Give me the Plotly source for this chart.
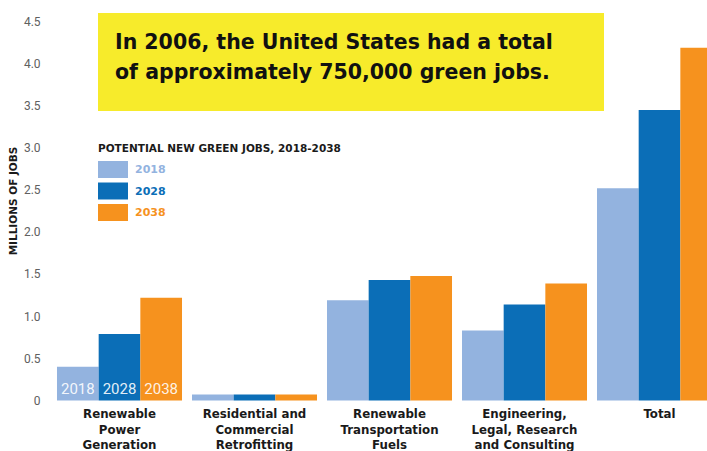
import plotly.graph_objects as go

# ---- data ----
categories = [
    "Renewable<br>Power<br>Generation",
    "Residential and<br>Commercial<br>Retrofitting",
    "Renewable<br>Transportation<br>Fuels",
    "Engineering,<br>Legal, Research<br>and Consulting",
    "Total",
]
years = ["2018", "2028", "2038"]
jobs_2018 = [0.40, 0.07, 1.19, 0.83, 2.52]
jobs_2028 = [0.79, 0.07, 1.43, 1.14, 3.45]
jobs_2038 = [1.22, 0.07, 1.48, 1.39, 4.19]
y_tickvals = [0, 0.5, 1.0, 1.5, 2.0, 2.5, 3.0, 3.5, 4.0, 4.5]
y_ticktext = ["0", "0.5", "1.0", "1.5", "2.0", "2.5", "3.0", "3.5", "4.0", "4.5"]
headline = ["In 2006, the United States had a total", "of approximately 750,000 green jobs."]
legend_title = "POTENTIAL NEW GREEN JOBS, 2018-2038"
y_title = "MILLIONS OF JOBS"

colors = ["#93B3DF", "#0B6EB7", "#F6921E"]
series = [jobs_2018, jobs_2028, jobs_2038]

W, H = 707, 451
ML, MR, MT, MB = 50, 0, 0, 49
PW, PH = W - ML - MR, H - MT - MB


def px(xp):
    return (xp - ML) / PW


def py(yp):
    return (H - MB - yp) / PH


xpos = list(range(len(categories)))

fig = go.Figure()
for i, (yr, vals) in enumerate(zip(years, series)):
    txt = [yr] + [""] * (len(vals) - 1)
    fig.add_trace(go.Bar(
        x=xpos, y=vals, name=yr, marker=dict(color=colors[i], line=dict(width=0)),
        text=txt, textposition="inside", insidetextanchor="start", textangle=0,
        textfont=dict(family="Roboto", size=15, color="rgba(255,255,255,0.9)"),
        showlegend=False,
    ))

shapes = []
annotations = []

# headline box
shapes.append(dict(type="rect", xref="paper", yref="paper",
                   x0=px(98), x1=px(604), y0=py(111), y1=py(13),
                   fillcolor="#F7EB2B", line=dict(width=0), layer="above"))
for j, (line, yc) in enumerate(zip(headline, [42, 72])):
    annotations.append(dict(text=line, xref="paper", yref="paper", x=px(113), y=py(yc),
                            xanchor="left", yanchor="middle", showarrow=False,
                            font=dict(family="DejaVu Sans", size=20.5, color="#111111", weight="bold")))

# legend
annotations.append(dict(text=legend_title, xref="paper", yref="paper", x=px(96), y=py(148),
                        xanchor="left", yanchor="middle", showarrow=False,
                        font=dict(family="DejaVu Sans", size=10.5, color="#1a1a1a", weight="bold")))
sw_tops = [161, 182.5, 204]
for i, yr in enumerate(years):
    t = sw_tops[i]
    shapes.append(dict(type="rect", xref="paper", yref="paper",
                       x0=px(98), x1=px(128), y0=py(t + 17), y1=py(t),
                       fillcolor=colors[i], line=dict(width=0)))
    annotations.append(dict(text=yr, xref="paper", yref="paper", x=px(133), y=py(t + 8.5),
                            xanchor="left", yanchor="middle", showarrow=False,
                            font=dict(family="DejaVu Sans", size=11, color=colors[i], weight="bold")))

fig.update_layout(
    width=W, height=H,
    margin=dict(l=ML, r=MR, t=MT, b=MB, pad=0, autoexpand=False),
    paper_bgcolor="white", plot_bgcolor="white",
    barmode="group", bargap=0.074, bargroupgap=0,
    shapes=shapes, annotations=annotations,
)
fig.update_xaxes(
    range=[(ML - 119.5) / 135, (W - 119.5) / 135],
    tickvals=xpos, ticktext=categories, automargin=False,
    ticks="outside", ticklen=1, tickcolor="rgba(0,0,0,0)",
    tickfont=dict(family="DejaVu Sans", size=11.8, color="#1a1a1a", weight="bold"),
    showgrid=False, zeroline=False, showline=False,
)
fig.update_yaxes(
    range=[-1.5 / 84.2, (PH - 1.5) / 84.2],
    tickvals=y_tickvals, ticktext=y_ticktext, automargin=False,
    ticks="outside", ticklen=6, tickcolor="rgba(0,0,0,0)",
    tickfont=dict(family="Roboto", size=12, color="#606060"),
    showgrid=False, zeroline=False, showline=False,
    title=dict(text=y_title, standoff=4,
               font=dict(family="DejaVu Sans", size=10.5, color="#1a1a1a", weight="bold")),
)

fig.write_html("out.html")
